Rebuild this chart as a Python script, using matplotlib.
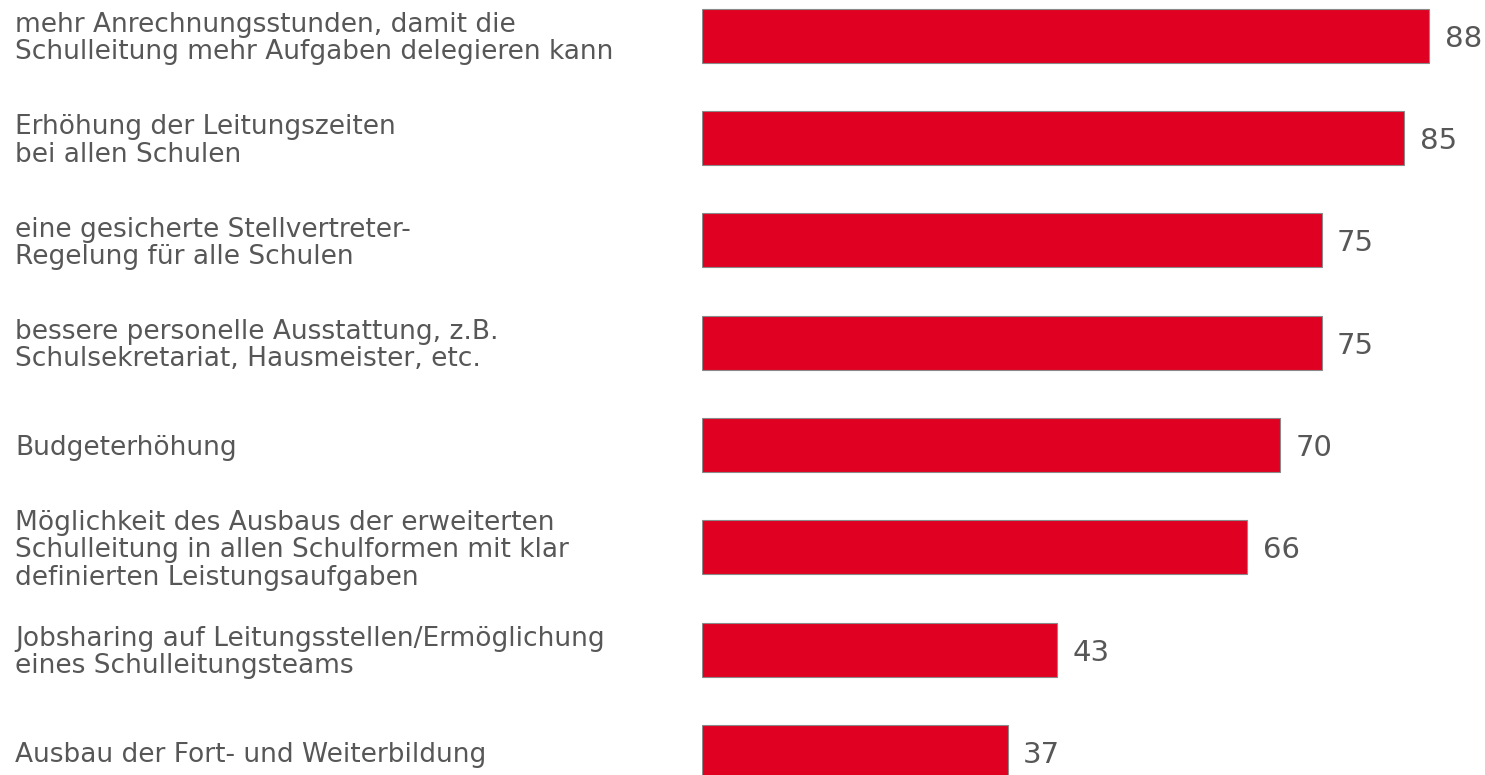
import matplotlib.pyplot as plt
from matplotlib.transforms import blended_transform_factory, ScaledTranslation

labels = [
    "mehr Anrechnungsstunden, damit die\nSchulleitung mehr Aufgaben delegieren kann",
    "Erhöhung der Leitungszeiten\nbei allen Schulen",
    "eine gesicherte Stellvertreter-\nRegelung für alle Schulen",
    "bessere personelle Ausstattung, z.B.\nSchulsekretariat, Hausmeister, etc.",
    "Budgeterhöhung",
    "Möglichkeit des Ausbaus der erweiterten\nSchulleitung in allen Schulformen mit klar\ndefinierten Leistungsaufgaben",
    "Jobsharing auf Leitungsstellen/Ermöglichung\neines Schulleitungsteams",
    "Ausbau der Fort- und Weiterbildung",
]
values = [88, 85, 75, 75, 70, 66, 43, 37]

bar_color = "#E00022"
text_color = "#575757"

fig = plt.figure(figsize=(14.85, 7.75), dpi=100)
ax = fig.add_axes([701.7 / 1485, 0, 1 - 701.7 / 1485, 1])

pos = list(range(len(values)))
ax.barh(pos, values, height=0.528, color=bar_color, edgecolor="#8a8a8a", linewidth=0.8)

ax.set_xlim(0, 94.74)
ax.set_ylim(7.225, -0.349)
ax.axis("off")

# labels sit a touch below the bar centre in the original
trans = blended_transform_factory(fig.transFigure, ax.transData) + \
    ScaledTranslation(0, -0.03, fig.dpi_scale_trans)
for p, lab in zip(pos, labels):
    ax.text(15 / 1485, p, lab, transform=trans, ha="left", va="center",
            fontsize=19, color=text_color, linespacing=1.06, clip_on=False)

for p, v in zip(pos, values):
    ax.annotate(str(v), xy=(v, p), xytext=(11, 0), textcoords="offset points",
                ha="left", va="center_baseline", fontsize=21, color=text_color)

fig.savefig("out.png", dpi=100)
